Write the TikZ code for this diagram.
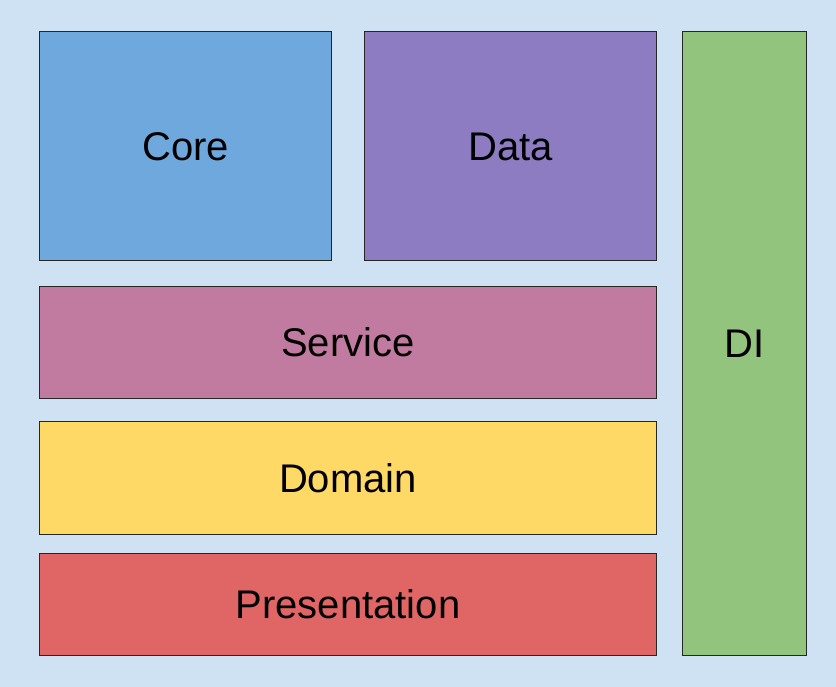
\documentclass[tikz,border=0pt]{standalone}
\usepackage{fontspec}
\setmainfont{Liberation Sans}
\definecolor{bgc}{HTML}{CFE2F3}
\definecolor{corec}{HTML}{6FA8DC}
\definecolor{datac}{HTML}{8E7CC3}
\definecolor{servc}{HTML}{C27BA0}
\definecolor{domc}{HTML}{FFD966}
\definecolor{presc}{HTML}{E06666}
\definecolor{dic}{HTML}{93C47D}
\begin{document}
\begin{tikzpicture}[x=1pt,y=-1pt,
  layer/.style={draw=black!85, line width=0.9pt, anchor=north west, inner sep=0pt, outer sep=0pt,
    font=\fontsize{40}{48}\selectfont, text height=28.6pt, text depth=0pt, align=center}]
\fill[bgc] (0,0) rectangle (836,687);
\useasboundingbox (0,0) rectangle (836,687);
\node[layer, fill=corec, minimum width=292pt, minimum height=229pt] (core) at (39.5,31.5) {Core};
\node[layer, fill=datac, minimum width=292pt, minimum height=229pt] (data) at (364.5,31.5) {Data};
\node[layer, fill=servc, minimum width=617pt, minimum height=112pt] (service) at (39.5,286.5) {Service};
\node[layer, fill=domc, minimum width=617pt, minimum height=113pt] (domain) at (39.5,421.5) {Domain};
\node[layer, fill=presc, minimum width=617pt, minimum height=102pt] (presentation) at (39.5,553.5) {Presentation};
\node[layer, fill=dic, minimum width=124pt, minimum height=624pt] (di) at (682.5,31.5) {};
\node[font=\fontsize{40}{48}\selectfont, text height=28.6pt, text depth=0pt, inner sep=0pt] (dilabel) at (744.5,343.5) {DI};
\end{tikzpicture}
\end{document}
